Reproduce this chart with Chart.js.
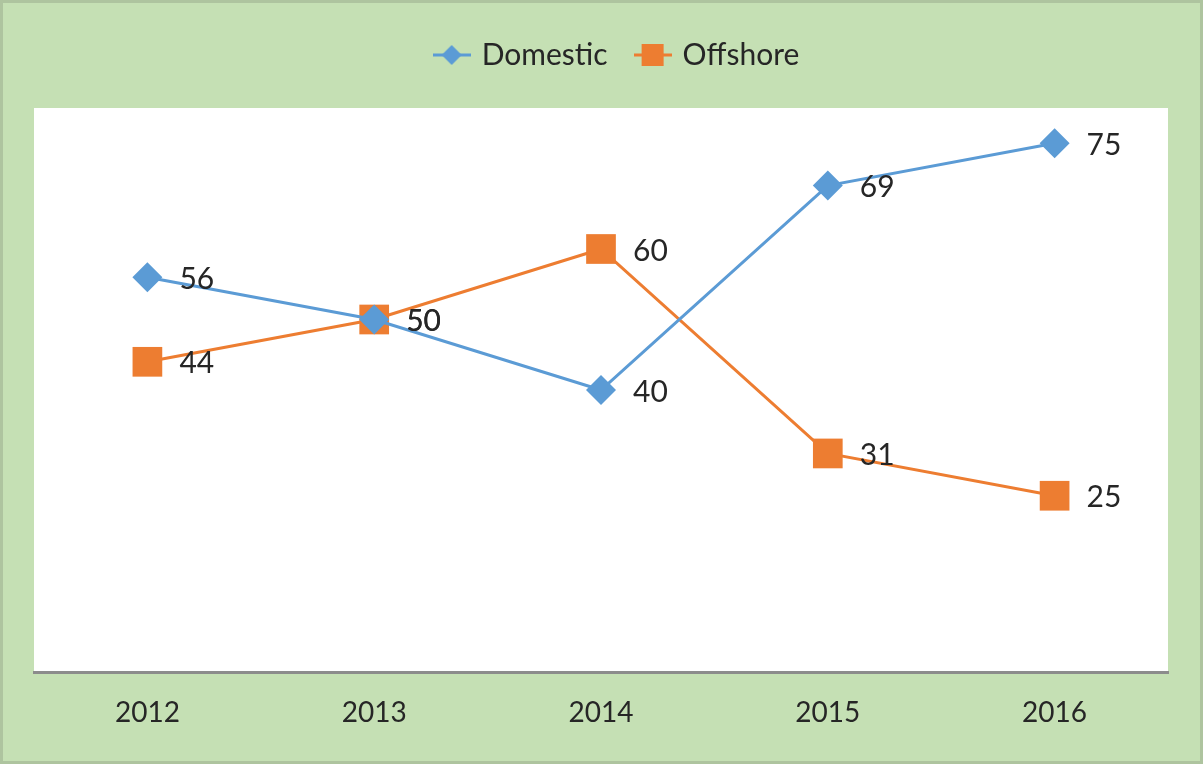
<!DOCTYPE html>
<html>
<head>
<meta charset="utf-8">
<script src="https://cdn.jsdelivr.net/npm/chart.js@4/dist/chart.umd.min.js"></script>
<style>
  html, body { margin: 0; padding: 0; background: #c5e0b4; }
  #wrap { width: 1203px; height: 764px; position: relative; }
</style>
</head>
<body>
<div id="wrap"><canvas id="c" width="1203" height="764"></canvas></div>
<script>
const years = ['2012', '2013', '2014', '2015', '2016'];
const domestic = [56, 50, 40, 69, 75];
const offshore = [44, 50, 60, 31, 25];

const BLUE = '#5b9bd5';
const ORANGE = '#ed7d31';
const TEXT = '#262626';
const FONT = 'Lato, "Liberation Sans", sans-serif';

// Legend swatch: short line with the series marker on it
function swatch(color, shape) {
  const cv = document.createElement('canvas');
  cv.width = 38; cv.height = 30;
  const g = cv.getContext('2d');
  g.strokeStyle = color; g.lineWidth = 3;
  g.beginPath(); g.moveTo(0, 15); g.lineTo(38, 15); g.stroke();
  g.fillStyle = color;
  if (shape === 'diamond') {
    g.beginPath(); g.moveTo(19, 5); g.lineTo(29, 15); g.lineTo(19, 25); g.lineTo(9, 15); g.closePath(); g.fill();
  } else {
    g.fillRect(8, 4, 22, 22);
  }
  return cv;
}

const bgPlugin = {
  id: 'bg',
  beforeDraw(chart) {
    const { ctx, chartArea: a, width, height } = chart;
    ctx.save();
    ctx.fillStyle = '#c5e0b4';
    ctx.fillRect(0, 0, width, height);
    ctx.strokeStyle = '#aec49f';
    ctx.lineWidth = 3;
    ctx.strokeRect(1.5, 1.5, width - 3, height - 3);
    ctx.fillStyle = '#ffffff';
    ctx.fillRect(a.left, a.top, a.right - a.left, a.bottom - a.top);
    ctx.restore();
  }
};

// nudge the legend row a little to the right of centre
const legendShift = {
  id: 'legendShift',
  afterLayout(chart) {
    if (chart.legend) { chart.legend.left += 17; chart.legend.right += 17; }
  }
};

const valueLabels = {
  id: 'valueLabels',
  afterDatasetsDraw(chart) {
    const { ctx } = chart;
    ctx.save();
    ctx.font = '30px ' + FONT;
    ctx.fillStyle = TEXT;
    ctx.textAlign = 'left';
    ctx.textBaseline = 'middle';
    chart.data.datasets.forEach((ds, i) => {
      chart.getDatasetMeta(i).data.forEach((pt, j) => {
        ctx.fillText(String(ds.data[j]), pt.x + 32, pt.y + 2);
      });
    });
    ctx.restore();
  }
};

new Chart(document.getElementById('c'), {
  type: 'line',
  data: {
    labels: years,
    datasets: [
      {
        label: 'Domestic',
        data: domestic,
        borderColor: BLUE,
        backgroundColor: BLUE,
        borderWidth: 3,
        pointStyle: 'rectRot',
        pointRadius: 15,
        pointBorderWidth: 0,
        tension: 0
      },
      {
        label: 'Offshore',
        data: offshore,
        borderColor: ORANGE,
        backgroundColor: ORANGE,
        borderWidth: 3,
        pointStyle: 'rect',
        pointRadius: 21,
        pointBorderWidth: 0,
        tension: 0
      }
    ]
  },
  options: {
    responsive: false,
    animation: false,
    layout: { padding: { left: 34, right: 35, top: 10, bottom: 0 } },
    plugins: {
      tooltip: { enabled: false },
      title: {
        display: true,
        text: ' ',
        font: { size: 10, lineHeight: 1 },
        padding: { top: 18, bottom: 0 }
      },
      legend: {
        position: 'top',
        weight: 3000,
        labels: {
          usePointStyle: true,
          pointStyleWidth: 30,
          padding: 30,
          color: TEXT,
          font: { family: FONT, size: 30 },
          generateLabels() {
            return [
              { text: 'Domestic', pointStyle: swatch(BLUE, 'diamond'), datasetIndex: 0, fontColor: TEXT, lineWidth: 0, strokeStyle: 'transparent', fillStyle: BLUE },
              { text: 'Offshore', pointStyle: swatch(ORANGE, 'square'), datasetIndex: 1, fontColor: TEXT, lineWidth: 0, strokeStyle: 'transparent', fillStyle: ORANGE }
            ];
          }
        }
      }
    },
    scales: {
      x: {
        offset: true,
        grid: { display: false, drawTicks: false },
        border: { display: true, color: '#8c8c8c', width: 3 },
        ticks: { color: TEXT, padding: 24, font: { family: FONT, size: 28 } },
        afterFit(s) { s.height = 92; }
      },
      y: {
        display: false,
        min: 0,
        max: 80
      }
    }
  },
  plugins: [bgPlugin, legendShift, valueLabels]
});
</script>
</body>
</html>
